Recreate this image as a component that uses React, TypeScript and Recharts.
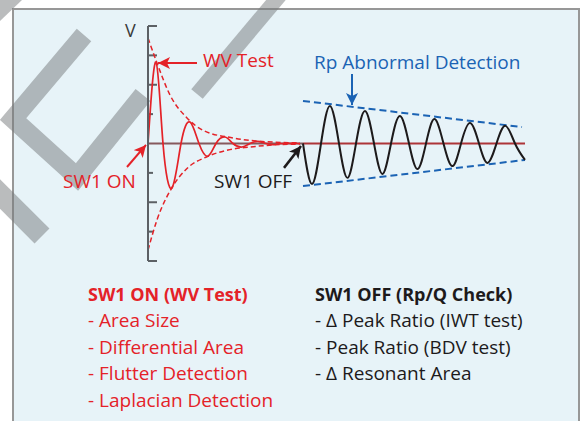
import { LineChart, Line, XAxis, YAxis, ReferenceLine } from 'recharts'

const RED = '#e42228'
const BLUE = '#1b63b4'
const INK = '#1d1a1b'
const AXIS = '#5c6065'
const FONT = '"Open Sans", "Noto Sans", sans-serif'

// volt ticks on the vertical axis (0 is covered by the base line)
const voltTicks = [-4, -3, -2, -1, 1, 2, 3, 4]
const longTicks = [-4, -2, 2, 3, 4]

// SW1 ON: damped ringing right after the pulse
const wvTime = [0, 0.8, 1.5, 2.4, 3.3, 4.2, 5.1, 6.0, 6.8, 7.7, 8.5, 9.4, 10.2, 11.0, 11.8, 12.6, 13.4, 15.2]
const wvVolt = [0, 2.77, 0, -1.51, 0, 0.73, 0, -0.43, 0, 0.22, 0, -0.12, 0, 0.07, 0, -0.04, 0, 0]

// red dashed envelope of the ringing
const envTopTime = [0, 0.9, 2.2, 3.9, 5.5, 8.5, 11, 15.2]
const envTopVolt = [3.59, 2.74, 1.65, 0.87, 0.45, 0.19, 0.08, 0.02]
const envLowTime = [0, 0.9, 2.4, 3.9, 5.9, 8, 10.2, 12.5, 15.2]
const envLowVolt = [-3.63, -2.6, -1.5, -0.85, -0.45, -0.22, -0.12, -0.05, -0.02]

// SW1 OFF: resonance used for the Rp check
const rpTime = [15.5, 16.4, 17.3, 18.2, 19.1, 19.95, 20.8, 21.7, 22.6, 23.45, 24.3, 25.2, 26.1, 26.95,
  27.8, 28.65, 29.55, 30.45, 31.3, 32.2, 33.1, 33.95, 34.85, 35.75, 36.7, 37.7]
const rpVolt = [0, -1.38, 0, 1.28, 0, -1.17, 0, 1.11, 0, -1.04, 0, 0.94, 0, -0.87,
  0, 0.83, 0, -0.77, 0, 0.7, 0, -0.66, 0, 0.6, 0, -0.56]

// blue dashed bounds of the resonance
const rpTopTime = [15.5, 37.4]
const rpTopVolt = [1.45, 0.56]
const rpLowTime = [15.5, 37.7]
const rpLowVolt = [-1.45, -0.56]

// base line, split where SW1 goes off
const baseOnTime = [0, 15.5]
const baseOffTime = [15.5, 37.7]
const baseVolt = [0, 0]

const onItems = ['- Area Size', '- Differential Area', '- Flutter Detection', '- Laplacian Detection']
const offItems = ['- Δ Peak Ratio (IWT test)', '- Peak Ratio (BDV test)', '- Δ Resonant Area']

const zip = (t: number[], v: number[]) => t.map((x, i) => ({ t: x, v: v[i] }))

const arrow = (marker: string, color: string, w: number) => (p: any) => (
  <line x1={p.x1} y1={p.y1} x2={p.x2} y2={p.y2} stroke={color} strokeWidth={w} markerEnd={`url(#${marker})`} />
)

function Head({ id, color }: { id: string; color: string }) {
  return (
    <marker id={id} markerUnits="userSpaceOnUse" markerWidth={13} markerHeight={12} refX={12} refY={6} orient="auto">
      <path d="M0,0 L12,6 L0,12 L3,6 Z" fill={color} />
    </marker>
  )
}

export default function App() {
  return (
    <div style={{ position: 'absolute', left: 0, top: 0, width: 587, height: 421, overflow: 'hidden', background: '#fff' }}>
      <div
        style={{
          position: 'absolute', left: 12, top: 8, width: 568, height: 440,
          boxSizing: 'border-box', border: '2px solid #979797', background: '#e7f3f8'
        }}
      />
      {/* watermark stripes */}
      <svg width={587} height={421} style={{ position: 'absolute', left: 0, top: 0 }}>
        <g stroke="#767a7c" strokeOpacity={0.5} fill="none" strokeLinejoin="miter">
          <path d="M84,35 L13,119 L77,177 L143,95" strokeWidth={19} />
          <path d="M-20,174 L42,236" strokeWidth={21} />
          <path d="M286,-12 L197,94" strokeWidth={15} />
        </g>
        <polygon points="0,0 22,0 0,21" fill="#767a7c" fillOpacity={0.5} />
        <defs>
          <Head id="headRed" color={RED} />
          <Head id="headInk" color={INK} />
          <Head id="headBlue" color={BLUE} />
        </defs>
      </svg>

      <LineChart
        width={587}
        height={421}
        margin={{ top: 26, right: 59, bottom: 160, left: 148 }}
        style={{ position: 'absolute', left: 0, top: 0 }}
      >
        <XAxis type="number" dataKey="t" domain={[0, 38]} hide />
        <YAxis
          type="number"
          domain={[-4, 4]}
          ticks={voltTicks}
          mirror
          tick={false}
          tickLine={false}
          axisLine={{ stroke: AXIS, strokeWidth: 2 }}
        />
        {/* tick marks point inward, long and short */}
        {voltTicks.map((v) => (
          <ReferenceLine
            key={v}
            segment={[{ x: 0, y: v }, { x: longTicks.includes(v) ? 0.9 : 0.5, y: v }]}
            stroke={AXIS}
            strokeWidth={2}
            ifOverflow="visible"
          />
        ))}
        <Line data={zip(baseOnTime, baseVolt)} dataKey="v" stroke="#86595d" strokeWidth={2} dot={false} isAnimationActive={false} />
        <Line data={zip(baseOffTime, baseVolt)} dataKey="v" stroke="#ad3538" strokeWidth={2} dot={false} isAnimationActive={false} />
        <Line data={zip(envTopTime, envTopVolt)} dataKey="v" type="monotone" stroke={RED} strokeWidth={1.5} strokeDasharray="5 3" dot={false} isAnimationActive={false} />
        <Line data={zip(envLowTime, envLowVolt)} dataKey="v" type="monotone" stroke={RED} strokeWidth={1.5} strokeDasharray="5 3" dot={false} isAnimationActive={false} />
        <Line data={zip(wvTime, wvVolt)} dataKey="v" type="natural" stroke={RED} strokeWidth={1.7} dot={false} isAnimationActive={false} />
        <Line data={zip(rpTopTime, rpTopVolt)} dataKey="v" stroke={BLUE} strokeWidth={2} strokeDasharray="7 4" dot={false} isAnimationActive={false} />
        <Line data={zip(rpLowTime, rpLowVolt)} dataKey="v" stroke={BLUE} strokeWidth={2} strokeDasharray="7 4" dot={false} isAnimationActive={false} />
        <Line data={zip(rpTime, rpVolt)} dataKey="v" type="natural" stroke={INK} strokeWidth={2} dot={false} isAnimationActive={false} />

        <ReferenceLine segment={[{ x: 4.9, y: 2.74 }, { x: 1.0, y: 2.74 }]} ifOverflow="visible" shape={arrow('headRed', RED, 2)} />
        <ReferenceLine segment={[{ x: -2.1, y: -0.8 }, { x: -0.2, y: -0.05 }]} ifOverflow="visible" shape={arrow('headRed', RED, 2)} />
        <ReferenceLine segment={[{ x: 13.6, y: -0.83 }, { x: 15.3, y: -0.085 }]} ifOverflow="visible" shape={arrow('headInk', INK, 2.5)} />
        <ReferenceLine segment={[{ x: 20.4, y: 2.37 }, { x: 20.4, y: 1.31 }]} ifOverflow="visible" shape={arrow('headBlue', BLUE, 2)} />
      </LineChart>

      <svg width={587} height={421} style={{ position: 'absolute', left: 0, top: 0, pointerEvents: 'none' }} fontFamily={FONT}>
        <text x={125} y={37} fontSize={18} fill="#3a3a3a">V</text>
        <text x={203} y={67} fontSize={19} fill={RED}>WV Test</text>
        <text x={314} y={69} fontSize={19} fill={BLUE}>Rp Abnormal Detection</text>
        <text x={63} y={188} fontSize={19} fill={RED}>SW1 ON</text>
        <text x={214} y={188} fontSize={19} fill={INK}>SW1 OFF</text>

        <text x={88} y={301} fontSize={18} fontWeight={700} fill={RED}>SW1 ON (WV Test)</text>
        {onItems.map((s, i) => (
          <text key={s} x={88} y={327 + i * 26.6} fontSize={19} fill={RED}>{s}</text>
        ))}
        <text x={315} y={301} fontSize={18} fontWeight={700} fill={INK}>SW1 OFF (Rp/Q Check)</text>
        {offItems.map((s, i) => (
          <text key={s} x={315} y={327 + i * 26.6} fontSize={19} fill={INK}>{s}</text>
        ))}
      </svg>
    </div>
  )
}
